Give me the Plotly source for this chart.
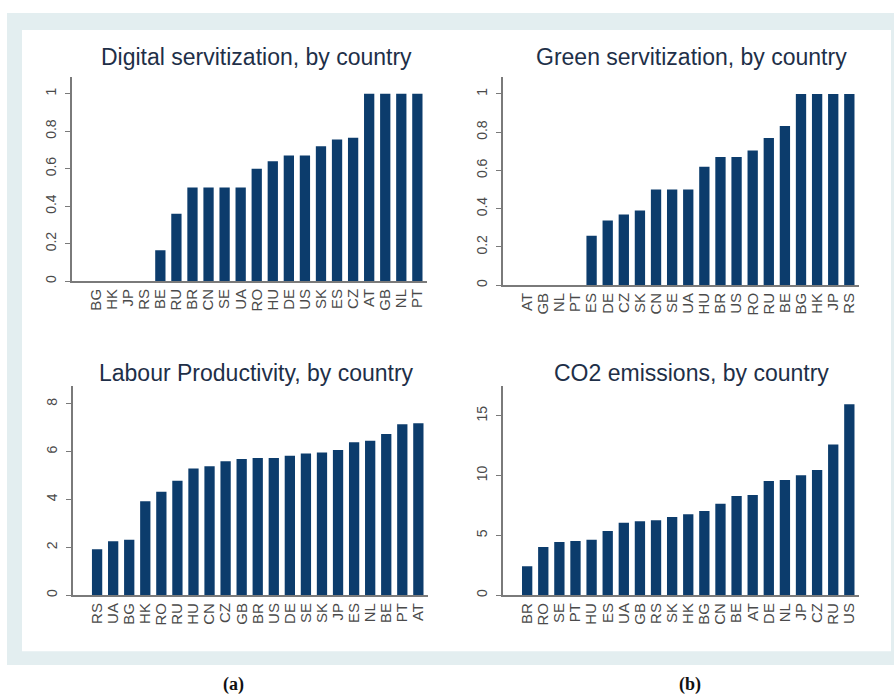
import plotly.graph_objects as go

W, H = 894, 698

digital_countries = ["BG", "HK", "JP", "RS", "BE", "RU", "BR", "CN", "SE", "UA", "RO",
                     "HU", "DE", "US", "SK", "ES", "CZ", "AT", "GB", "NL", "PT"]
digital_values = [0, 0, 0, 0, 0.165, 0.36, 0.5, 0.5, 0.5, 0.5, 0.6,
                  0.64, 0.67, 0.67, 0.72, 0.755, 0.765, 1, 1, 1, 1]

green_countries = ["AT", "GB", "NL", "PT", "ES", "DE", "CZ", "SK", "CN", "SE", "UA",
                   "HU", "BR", "US", "RO", "RU", "BE", "BG", "HK", "JP", "RS"]
green_values = [0, 0, 0, 0, 0.258, 0.338, 0.37, 0.39, 0.5, 0.5, 0.5,
                0.62, 0.67, 0.67, 0.705, 0.77, 0.833, 1, 1, 1, 1]

labour_countries = ["RS", "UA", "BG", "HK", "RO", "RU", "HU", "CN", "CZ", "GB", "BR",
                    "US", "DE", "SE", "SK", "JP", "ES", "NL", "BE", "PT", "AT"]
labour_values = [1.92, 2.26, 2.32, 3.93, 4.33, 4.79, 5.3, 5.39, 5.6, 5.69, 5.74,
                 5.74, 5.83, 5.93, 5.97, 6.07, 6.39, 6.46, 6.74, 7.15, 7.19]

co2_countries = ["BR", "RO", "SE", "PT", "HU", "ES", "UA", "GB", "RS", "SK", "HK",
                 "BG", "CN", "BE", "AT", "DE", "NL", "JP", "CZ", "RU", "US"]
co2_values = [2.42, 4.04, 4.46, 4.54, 4.65, 5.38, 6.07, 6.18, 6.27, 6.55, 6.77,
              7.05, 7.66, 8.3, 8.38, 9.55, 9.64, 10.03, 10.47, 12.6, 15.96]

titles = ["Digital servitization, by country", "Green servitization, by country",
          "Labour Productivity, by country", "CO2 emissions, by country"]
digital_ticks = [0, 0.2, 0.4, 0.6, 0.8, 1]
green_ticks = [0, 0.2, 0.4, 0.6, 0.8, 1]
labour_ticks = [0, 2, 4, 6, 8]
co2_ticks = [0, 5, 10, 15]
panel_labels = ["(a)", "(b)"]

BAR = "#0c3c6c"
AX = "#7a7a7a"
TXT = "#4a4a4a"

panels = [
    (digital_countries, digital_values, digital_ticks, ["0", "0.2", "0.4", "0.6", "0.8", "1"], 1.09,
     (72, 427), (77, 282)),
    (green_countries, green_values, green_ticks, ["0", "0.2", "0.4", "0.6", "0.8", "1"], 1.09,
     (503, 859), (77, 286)),
    (labour_countries, labour_values, labour_ticks, [str(t) for t in labour_ticks], 8.75,
     (73, 428), (387, 597)),
    (co2_countries, co2_values, co2_ticks, [str(t) for t in co2_ticks], 17.5,
     (503, 859), (387, 597)),
]

fig = go.Figure()
layout = {}
for i, (cats, vals, ticks, ticktext, ymax, (x0, x1), (y0, y1)) in enumerate(panels):
    n = i + 1
    xa = "x" if n == 1 else f"x{n}"
    ya = "y" if n == 1 else f"y{n}"
    fig.add_trace(go.Bar(x=list(range(len(cats))), y=vals, marker_color=BAR,
                         marker_line_width=0, width=0.64, xaxis=xa, yaxis=ya,
                         showlegend=False))
    xk = "xaxis" if n == 1 else f"xaxis{n}"
    yk = "yaxis" if n == 1 else f"yaxis{n}"
    layout[xk] = dict(
        domain=[x0 / W, x1 / W], anchor=ya, range=[-1.5, 20.6],
        tickmode="array", tickvals=list(range(len(cats))), ticktext=cats,
        tickangle=-90, showline=True, linecolor=AX, linewidth=1.5,
        showgrid=False, zeroline=False, ticks="", ticklen=0,
        tickfont=dict(family="Liberation Sans, Arial", size=15, color=TXT),
        fixedrange=True,
    )
    layout[yk] = dict(
        domain=[1 - y1 / H, 1 - y0 / H], anchor=xa, range=[0, ymax],
        tickmode="array", tickvals=ticks, ticktext=ticktext, tickangle=-90,
        showline=True, linecolor=AX, linewidth=1.5, ticks="outside",
        ticklen=5, tickcolor=AX, tickwidth=1.2, showgrid=False, zeroline=False,
        ticklabelstandoff=4,
        tickfont=dict(family="Liberation Sans, Arial", size=14, color=TXT),
        fixedrange=True,
    )

title_pos = [(256, 57), (691, 57), (256, 374), (691, 374)]
annotations = []
for t, (tx, ty) in zip(titles, title_pos):
    annotations.append(dict(text=t, x=tx / W, y=1 - ty / H, xref="paper", yref="paper",
                            xanchor="center", yanchor="middle", showarrow=False,
                            font=dict(family="Liberation Sans, Arial", size=23, color="#1e2f48")))
for t, (tx, ty) in zip(panel_labels, [(233, 686), (690, 686)]):
    annotations.append(dict(text=f"<b>{t}</b>", x=tx / W, y=1 - ty / H, xref="paper", yref="paper",
                            xanchor="center", yanchor="middle", showarrow=False,
                            font=dict(family="Liberation Serif, Times New Roman", size=18, color="#111111")))

shapes = [
    dict(type="rect", xref="paper", yref="paper", x0=7 / W, x1=1.0, y0=1 - 667 / H, y1=1 - 13 / H,
         fillcolor="#e3eef0", line_width=0, layer="below"),
    dict(type="rect", xref="paper", yref="paper", x0=22 / W, x1=891 / W, y0=1 - 653 / H, y1=1 - 30 / H,
         fillcolor="#ffffff", line_width=0, layer="below"),
]

fig.update_layout(
    width=W, height=H, margin=dict(l=0, r=0, t=0, b=0),
    paper_bgcolor="#ffffff", plot_bgcolor="rgba(0,0,0,0)",
    annotations=annotations, shapes=shapes, bargap=0.36,
    **layout,
)

fig.write_html("out.html", config={"displayModeBar": False},
               post_script="document.body.style.margin='0';document.body.style.overflow='hidden';")
